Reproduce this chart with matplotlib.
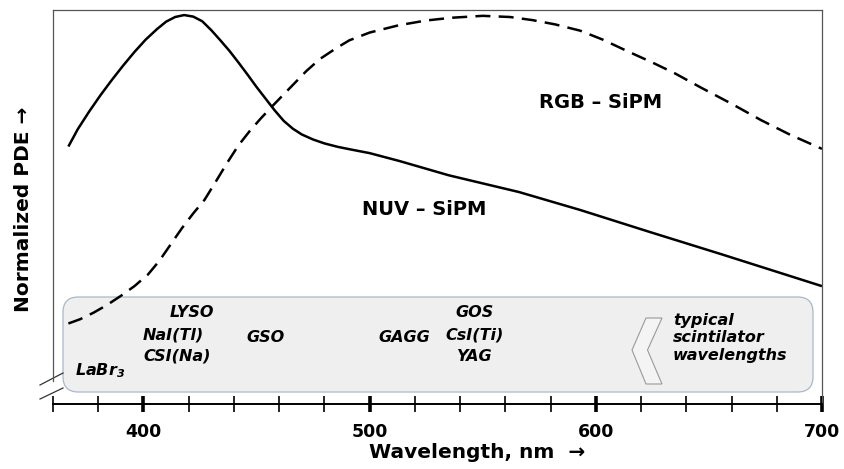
# -*- coding: utf-8 -*-

import matplotlib
matplotlib.use("Agg")
import matplotlib.pyplot as plt
from matplotlib.patches import FancyBboxPatch, Polygon
from matplotlib.lines import Line2D

plt.rcParams['font.family'] = ['DejaVu Sans']
plt.rcParams['mathtext.fontset'] = 'custom'
plt.rcParams['mathtext.rm'] = 'DejaVu Sans:bold:italic'
plt.rcParams['mathtext.it'] = 'DejaVu Sans:bold:italic'

# NUV - SiPM (solid)
nuv_wl = [366.8, 371, 376, 381, 386, 391, 396, 401, 406, 410, 414, 418, 422, 426,
          430, 434, 438, 442, 446, 450, 454, 458, 462, 466, 470, 475, 480, 486,
          492, 500, 513, 535, 566, 593, 624, 655, 700]
nuv_pde = [0.662, 0.707, 0.752, 0.794, 0.833, 0.870, 0.905, 0.937, 0.964, 0.983,
           0.995, 1.000, 0.996, 0.984, 0.961, 0.935, 0.908, 0.878, 0.847, 0.815,
           0.785, 0.755, 0.728, 0.708, 0.693, 0.680, 0.670, 0.661, 0.654, 0.645,
           0.625, 0.588, 0.545, 0.499, 0.442, 0.386, 0.303]

# RGB - SiPM (dashed)
rgb_wl = [366.8, 372, 378, 384, 390, 396, 402, 407, 412, 417, 422, 427, 432, 437,
          442, 447, 452, 457, 462, 467, 472, 478, 485, 491, 500, 513, 525, 536,
          550, 562, 572, 582, 593, 603, 614, 625, 635, 646, 660, 673, 686, 700]
rgb_pde = [0.207, 0.218, 0.235, 0.255, 0.278, 0.303, 0.333, 0.368, 0.410, 0.452,
           0.490, 0.525, 0.572, 0.620, 0.665, 0.702, 0.735, 0.766, 0.796, 0.826,
           0.856, 0.887, 0.914, 0.935, 0.955, 0.974, 0.986, 0.993, 0.998, 0.995,
           0.987, 0.976, 0.960, 0.937, 0.907, 0.878, 0.850, 0.815, 0.772, 0.730,
           0.692, 0.656]

# scintillator names: (text, wavelength, normalized height)
scint_names = ["LYSO", "NaI(Tl)", "CSI(Na)", "GSO", "GAGG", "GOS", "CsI(Ti)", "YAG",
               r"LaBr$_{3}$"]
scint_wl = [421.5, 413.1, 414.9, 453.8, 515.3, 546.3, 546.3, 546.7, 380.8]
scint_y = [0.234, 0.177, 0.123, 0.170, 0.170, 0.234, 0.177, 0.123, 0.087]

xticks_major = [400, 500, 600, 700]
xticks_minor = list(range(360, 701, 20))

W, H = 844, 469
fig = plt.figure(figsize=(W / 100, H / 100), dpi=100)
ax = fig.add_axes([53 / W, 1 - 404 / H, 769 / W, 394 / H])

ax.plot(nuv_wl, nuv_pde, color='black', lw=1.8, solid_capstyle='butt',
        solid_joinstyle='round')
ax.plot(rgb_wl, rgb_pde, color='black', lw=1.8, dashes=(6, 3.3))

ax.set_xlim(360, 700)
ax.set_ylim(0, 1.013)

# scintillator band
box = FancyBboxPatch((10 / 769, 12 / 394), 750 / 769, 95 / 394,
                     boxstyle="round,pad=0,rounding_size=0.02",
                     mutation_aspect=1.95,
                     transform=ax.transAxes, facecolor='#efefef',
                     edgecolor='#a9b8cb', lw=0.9, zorder=0)
ax.add_patch(box)

def px(x, y):
    return ((x - 53) / 769, (404 - y) / 394)

chev = Polygon([px(662, 318), px(646, 318), px(632, 350), px(646, 384),
                px(662, 384), px(647.5, 350)], closed=True,
               transform=ax.transAxes, facecolor='#f4f4f4',
               edgecolor='#9a9a9a', lw=0.8, zorder=1)
ax.add_patch(chev)

for name, xw, yy in zip(scint_names, scint_wl, scint_y):
    ax.text(xw, yy, name, ha='center', va='center', fontsize=11.5,
            fontweight='bold', fontstyle='italic', zorder=3)

ax.text(*px(673, 338), "typical\nscintilator\nwavelengths", transform=ax.transAxes,
        ha='left', va='center', fontsize=11.5, fontweight='bold',
        fontstyle='italic', linespacing=1.2)

ax.text(*px(601, 102), "RGB – SiPM", transform=ax.transAxes, ha='center',
        va='center', fontsize=14, fontweight='bold')
ax.text(*px(424, 209), "NUV – SiPM", transform=ax.transAxes, ha='center',
        va='center', fontsize=14, fontweight='bold')

# spines
for s in ['top', 'left', 'right']:
    ax.spines[s].set_color('#555555')
    ax.spines[s].set_linewidth(0.9)
ax.spines['left'].set_bounds(23 / 389, 1.013)
ax.spines['bottom'].set_color('black')
ax.spines['bottom'].set_linewidth(1.4)

# axis break marks
for y0, y1 in [(385, 373), (399, 388)]:
    ax.add_line(Line2D([px(40, y0)[0], px(63, y1)[0]], [px(40, y0)[1], px(63, y1)[1]],
                       transform=ax.transAxes, color='#333333', lw=0.9,
                       clip_on=False))

ax.set_yticks([])
ax.set_xticks(xticks_major)
ax.set_xticks(xticks_minor, minor=True)
ax.tick_params(axis='x', which='major', direction='inout', length=11, width=2.6,
               pad=8, labelsize=12.5)
ax.tick_params(axis='x', which='minor', direction='inout', length=11, width=1.2)
for lab in ax.get_xticklabels():
    lab.set_fontweight('bold')

fig.text(477 / W, 1 - 452 / H, "Wavelength, nm  →", ha='center', va='center',
         fontsize=14.5, fontweight='bold')
fig.text(24 / W, 1 - 209 / H, "Normalized PDE →", ha='center', va='center',
         rotation=90, fontsize=14.5, fontweight='bold')

fig.savefig('out.png', dpi=100)
